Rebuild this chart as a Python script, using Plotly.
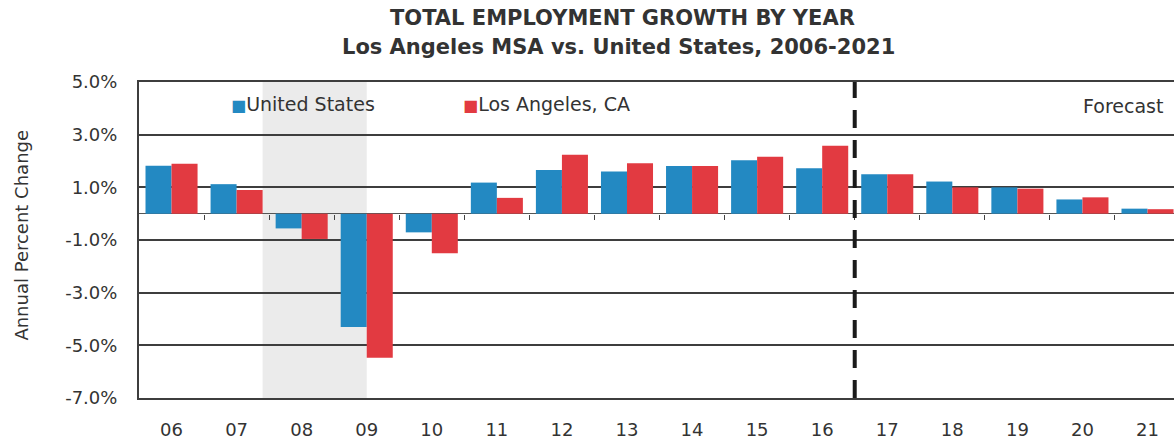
import plotly.graph_objects as go

# ---------------- data ----------------
years = ["06", "07", "08", "09", "10", "11", "12", "13", "14", "15", "16", "17", "18", "19", "20", "21"]
us_growth = [1.82, 1.12, -0.56, -4.30, -0.71, 1.18, 1.66, 1.60, 1.81, 2.03, 1.72, 1.50, 1.22, 1.00, 0.54, 0.19]
la_growth = [1.90, 0.90, -0.96, -5.47, -1.50, 0.60, 2.24, 1.91, 1.81, 2.16, 2.58, 1.50, 1.00, 0.95, 0.62, 0.17]
y_tick_vals = [5, 3, 1, -1, -3, -5, -7]
y_tick_text = ["5.0%", "3.0%", "1.0%", "-1.0%", "-3.0%", "-5.0%", "-7.0%"]
first_forecast_year = "17"
recession_span = (1.4, 3.0)  # shaded band, in category index units

# ---------------- styles ----------------
BLUE = "#2389c2"
RED = "#e23a41"
TXT = "#333333"
GRID = "#3e3e3e"
FONT = "DejaVu Sans"

x_idx = list(range(len(years)))

fig = go.Figure()
fig.add_trace(go.Bar(x=x_idx, y=us_growth, name="United States", marker_color=BLUE,
                     marker_line_width=0, showlegend=False))
fig.add_trace(go.Bar(x=x_idx, y=la_growth, name="Los Angeles, CA", marker_color=RED,
                     marker_line_width=0, showlegend=False))
# invisible trace to carry the zero-line tick axis
fig.add_trace(go.Scatter(x=[], y=[], xaxis="x2", yaxis="y", showlegend=False, hoverinfo="skip"))

fig.update_layout(
    width=1174, height=440,
    margin=dict(l=139, r=0, t=82, b=37),
    paper_bgcolor="white", plot_bgcolor="white",
    barmode="group", bargap=0.2, bargroupgap=0.0,
    font=dict(family=FONT, color=TXT, size=18),
    xaxis=dict(
        range=[-0.5, 15.407],
        tickmode="array", tickvals=x_idx, ticktext=years,
        showgrid=False, zeroline=False,
        showline=True, mirror=True, linecolor=GRID, linewidth=2,
        ticks="", ticklabelstandoff=14,
        tickfont=dict(family=FONT, size=18, color=TXT),
    ),
    xaxis2=dict(
        overlaying="x", anchor="free", position=7 / 12, side="bottom",
        range=[-0.5, 15.407],
        tickmode="array", tickvals=[i + 0.5 for i in x_idx[:-1]],
        ticks="outside", ticklen=5, tickwidth=1, tickcolor="#444444",
        showticklabels=False, showline=False, showgrid=False, zeroline=False,
    ),
    yaxis=dict(
        range=[-7, 5],
        tickmode="array", tickvals=y_tick_vals, ticktext=y_tick_text,
        showgrid=True, gridcolor=GRID, gridwidth=2,
        zeroline=True, zerolinecolor="#555555", zerolinewidth=1,
        showline=True, linecolor=GRID, linewidth=2,
        ticks="", ticklabelstandoff=16,
        tickfont=dict(family=FONT, size=18, color=TXT),
    ),
)

# recession shading
fig.add_shape(type="rect", xref="x", yref="paper", x0=recession_span[0], x1=recession_span[1],
              y0=0, y1=1, fillcolor="#ebebeb", line_width=0, layer="below")

# forecast divider
div_x = years.index(first_forecast_year) - 0.5
fig.add_shape(type="line", xref="x", yref="paper", x0=div_x, x1=div_x, y0=0, y1=1,
              line=dict(color="#1a1a1a", width=4, dash="18px,12px"), layer="above")

# titles
fig.add_annotation(xref="paper", yref="paper", x=0.4667, y=1.203, xanchor="center", yanchor="middle",
                   text="<b>TOTAL EMPLOYMENT GROWTH BY YEAR</b>", showarrow=False,
                   font=dict(family=FONT, size=21, color=TXT))
fig.add_annotation(xref="paper", yref="paper", x=0.463, y=1.112, xanchor="center", yanchor="middle",
                   text="<b>Los Angeles MSA vs. United States, 2006-2021</b>", showarrow=False,
                   font=dict(family=FONT, size=21, color=TXT))

# legend as text annotations
fig.add_annotation(xref="paper", yref="paper", x=0.087, y=0.931, xanchor="left", yanchor="middle",
                   text=f"<span style='color:{BLUE};font-size:16px'>■</span>United States", showarrow=False,
                   font=dict(family=FONT, size=19, color=TXT))
fig.add_annotation(xref="paper", yref="paper", x=0.311, y=0.931, xanchor="left", yanchor="middle",
                   text=f"<span style='color:{RED};font-size:16px'>■</span>Los Angeles, CA", showarrow=False,
                   font=dict(family=FONT, size=19, color=TXT))
fig.add_annotation(xref="paper", yref="paper", x=0.991, y=0.925, xanchor="right", yanchor="middle",
                   text="Forecast", showarrow=False,
                   font=dict(family=FONT, size=19, color=TXT))

# y-axis title
fig.add_annotation(xref="paper", yref="paper", x=-0.113, y=0.514, xanchor="center", yanchor="middle",
                   text="Annual Percent Change", textangle=-90, showarrow=False,
                   font=dict(family=FONT, size=18, color=TXT))

fig.write_html("out.html")
